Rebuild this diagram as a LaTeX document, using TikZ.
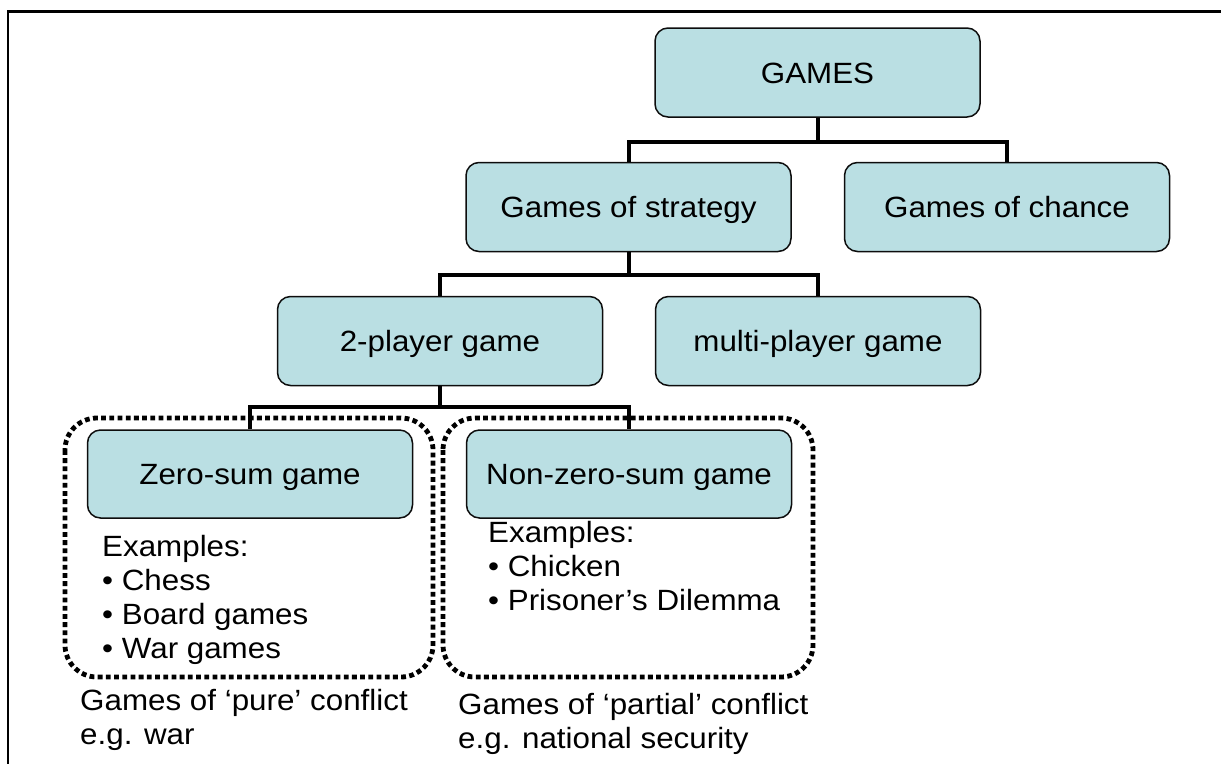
\documentclass[tikz,border=0pt]{standalone}
\usepackage{fontspec}
\setmainfont{Liberation Sans}[FakeStretch=1.07]
\begin{document}
\begin{tikzpicture}[x=1pt,y=-1pt,
  box/.style={draw=black!95,line width=1.5pt,fill=boxfill,rounded corners=13pt,
    minimum width=325pt,minimum height=89pt,inner sep=0pt,
    text height=21pt,text depth=0pt,
    font=\fontsize{29.3}{34}\selectfont},
  conn/.style={line width=4pt,draw=black},
  dotbox/.style={line width=4.8pt,dash pattern=on 4.8pt off 3.4pt,rounded corners=32pt},
  txt/.style={anchor=base west,inner sep=0pt,font=\fontsize{29.3}{34}\selectfont}]
\definecolor{boxfill}{RGB}{186,223,227}
\useasboundingbox (0,0) rectangle (1221,764);
% outer frame (top and left edges only)
\draw[line width=2.5pt] (1221,11.5) -- (8,11.5) -- (8,764);

% tree boxes
\node[box] (games)   at (817.5,72.5) {GAMES};
\node[box] (strat)   at (628.5,207)  {Games of strategy};
\node[box] (chance)  at (1007,207)   {Games of chance};
\node[box] (two)     at (440,341)    {2-player game};
\node[box] (multi)   at (818,341)    {multi-player game};
\node[box,minimum height=88pt] (zero)    at (250,474)  {Zero-sum game};
\node[box,minimum height=88pt] (nonzero) at (629,474)  {Non-zero-sum game};

% connectors
\coordinate (j1) at (817.5,142);
\coordinate (j2) at (628.5,275);
\coordinate (j3) at (440,407);
\draw[conn] (games.south) -- (j1);
\draw[conn] (strat.north) |- (j1) -| (chance.north);
\draw[conn] (strat.south) -- (j2);
\draw[conn] (two.north) |- (j2) -| (multi.north);
\draw[conn] (two.south) -- (j3);
\draw[conn] (zero.north) |- (j3) -| (nonzero.north);

% dotted groupings
\draw[dotbox] (65,418) rectangle (433,677);
\draw[dotbox] (443,418) rectangle (813,677);

% examples, left group
\node[txt] (exl)  at (102,556) {Examples:};
\node[txt] (exl1) at (102,590) {•\ Chess};
\node[txt] (exl2) at (102,624) {•\ Board games};
\node[txt] (exl3) at (102,658) {•\ War games};
% examples, right group
\node[txt] (exr)  at (488,542) {Examples:};
\node[txt] (exr1) at (488,576) {•\ Chicken};
\node[txt] (exr2) at (488,610) {•\ Prisoner’s Dilemma};

% captions
\node[txt] (capl1) at (80,710)  {Games of ‘pure’ conflict};
\node[txt] (capl2) at (80,744)  {e.g. war};
\node[txt] (capr1) at (458,714) {Games of ‘partial’ conflict};
\node[txt] (capr2) at (458,748) {e.g. national security};
\end{tikzpicture}
\end{document}
